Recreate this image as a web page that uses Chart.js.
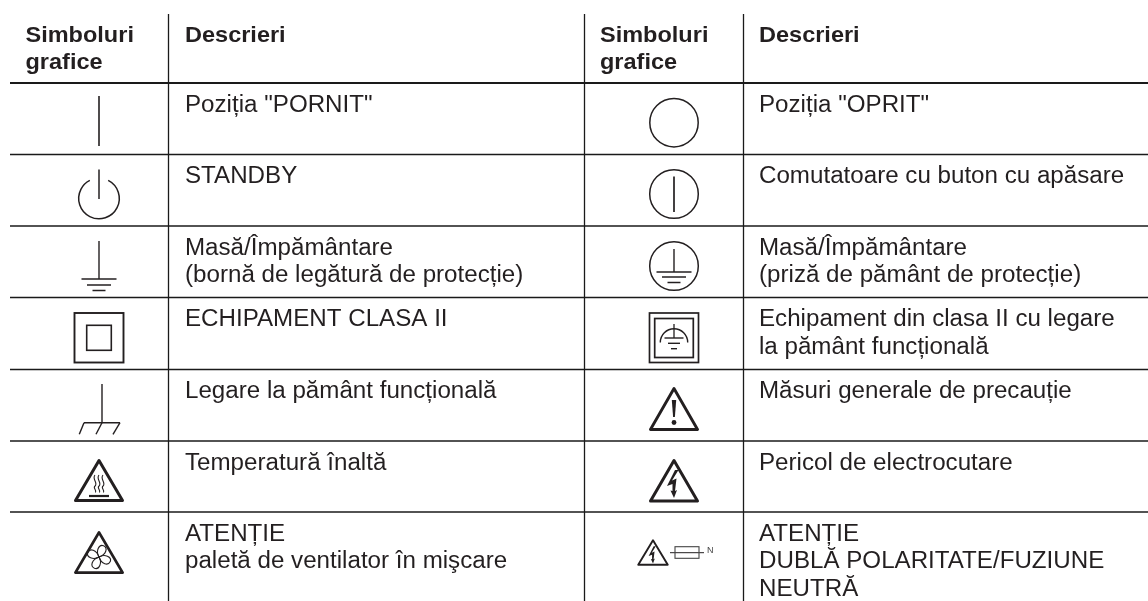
<!DOCTYPE html>
<html>
<head>
<meta charset="utf-8">
<style>
  html, body { margin: 0; padding: 0; background: #fff; }
  canvas { display: block; }
</style>
<script src="https://cdn.jsdelivr.net/npm/chart.js@4"></script>
</head>
<body>
<canvas id="tabel" width="1148" height="601"></canvas>
<script>
(function (window, document) {
    'use strict';

    var INK = '#231f20';

    // table grid, in the pixel units of the two hidden axes
    var thickRows = [83];
    var thinRows = [154.5, 226, 297.5, 369.5, 441, 512];
    var columns = [168.5, 584.5, 743.5];
    var rowStarts = [83, 154.5, 226, 297.5, 369.5, 441, 512];

    var headerSymbols = ['Simboluri', 'grafice'];
    var headerDescriptions = ['Descrieri'];

    var leftDescriptions = [
        ['Poziția "PORNIT"'],
        ['STANDBY'],
        ['Masă/Împământare', '(bornă de legătură de protecție)'],
        ['ECHIPAMENT CLASA II'],
        ['Legare la pământ funcțională'],
        ['Temperatură înaltă'],
        ['ATENȚIE', 'paletă de ventilator în mişcare']
    ];
    var rightDescriptions = [
        ['Poziția "OPRIT"'],
        ['Comutatoare cu buton cu apăsare'],
        ['Masă/Împământare', '(priză de pământ de protecție)'],
        ['Echipament din clasa II cu legare', 'la pământ funcțională'],
        ['Măsuri generale de precauție'],
        ['Pericol de electrocutare'],
        ['ATENȚIE', 'DUBLĂ POLARITATE/FUZIUNE', 'NEUTRĂ']
    ];

    var leftSymbols = ['on', 'standby', 'ground', 'classTwo', 'functionalEarth', 'hot', 'fan'];
    var rightSymbols = ['off', 'pushButton', 'protectiveEarth', 'classTwoEarth', 'caution', 'shock', 'fuse'];
    var leftSymbolX = [99, 99, 99, 99, 99, 99, 99];
    var rightSymbolX = [674, 674, 674, 674, 674, 674, 674];
    var symbolY = [122, 194, 266, 338, 409, 481, 552];

    function line(ctx, pts, lw) {
        ctx.lineWidth = lw;
        ctx.beginPath();
        pts.forEach(function (p, i) {
            if (i === 0) { ctx.moveTo(p[0], p[1]); } else { ctx.lineTo(p[0], p[1]); }
        });
        ctx.stroke();
    }

    function circle(ctx, x, y, r, lw) {
        ctx.lineWidth = lw;
        ctx.beginPath();
        ctx.arc(x, y, r, 0, Math.PI * 2);
        ctx.stroke();
    }

    // warning triangle given by its outer extents
    function triangle(ctx, top, bottom, half, lw) {
        ctx.lineWidth = lw;
        ctx.lineJoin = 'round';
        ctx.beginPath();
        ctx.moveTo(0, top + lw / 2);
        ctx.lineTo(half - lw / 2, bottom - lw / 2);
        ctx.lineTo(-half + lw / 2, bottom - lw / 2);
        ctx.closePath();
        ctx.stroke();
    }

    function bolt(ctx, k) {
        var pts = [[1, -11], [-7, 5], [-1.5, 3], [-1.5, 10], [-3.5, 9.5], [0, 17], [3, 9], [1, 10], [2.5, -2.5], [-2, -0.5], [4.5, -11]];
        ctx.beginPath();
        pts.forEach(function (p, i) {
            if (i === 0) { ctx.moveTo(p[0] * k, p[1] * k); } else { ctx.lineTo(p[0] * k, p[1] * k); }
        });
        ctx.closePath();
        ctx.fill();
    }

    // every symbol draws around (0, 0), the point it is plotted on
    var symbolDrawers = {
        on: function (ctx) {
            line(ctx, [[0, -26], [0, 24]], 1.6);
        },
        off: function (ctx) {
            circle(ctx, 0, 0.7, 24.2, 1.5);
        },
        standby: function (ctx) {
            line(ctx, [[0, -24.5], [0, 5]], 1.5);
            ctx.lineWidth = 1.5;
            ctx.beginPath();
            ctx.arc(0, 4.5, 20.3, -Math.PI / 2 + 0.47, -Math.PI / 2 - 0.47);
            ctx.stroke();
        },
        pushButton: function (ctx) {
            circle(ctx, 0, 0, 24.3, 1.5);
            line(ctx, [[0, -17.5], [0, 18]], 1.7);
        },
        ground: function (ctx) {
            line(ctx, [[0, -25], [0, 13]], 1.4);
            line(ctx, [[-17.5, 13], [17.5, 13]], 1.5);
            line(ctx, [[-12, 19], [12, 19]], 1.5);
            line(ctx, [[-6.5, 24.5], [6.5, 24.5]], 1.5);
        },
        protectiveEarth: function (ctx) {
            circle(ctx, 0, 0, 24.3, 1.5);
            line(ctx, [[0, -17], [0, 6]], 1.4);
            line(ctx, [[-17.5, 6], [17.5, 6]], 1.5);
            line(ctx, [[-12, 11], [12, 11]], 1.5);
            line(ctx, [[-6.5, 16.5], [6.5, 16.5]], 1.5);
        },
        classTwo: function (ctx) {
            ctx.lineWidth = 1.9;
            ctx.strokeRect(-24.5, -25, 49, 49.5);
            ctx.lineWidth = 1.6;
            ctx.strokeRect(-12.3, -12.7, 24.6, 25);
        },
        classTwoEarth: function (ctx) {
            ctx.lineWidth = 1.7;
            ctx.strokeRect(-24.5, -25, 49, 49.5);
            ctx.lineWidth = 1.7;
            ctx.strokeRect(-19.3, -19.5, 38.6, 39);
            ctx.lineWidth = 1.4;
            ctx.beginPath();
            ctx.arc(0, 4.5, 13.7, Math.PI, 0);
            ctx.stroke();
            line(ctx, [[0, -14], [0, 0]], 1.3);
            line(ctx, [[-9.5, 0], [9.5, 0]], 1.4);
            line(ctx, [[-6, 5.3], [6, 5.3]], 1.4);
            line(ctx, [[-3, 10.7], [3, 10.7]], 1.4);
        },
        functionalEarth: function (ctx) {
            line(ctx, [[3, -25], [3, 13.7]], 1.4);
            line(ctx, [[-15, 13.7], [21, 13.7]], 1.5);
            line(ctx, [[-15, 13.7], [-19.7, 25.3]], 1.4);
            line(ctx, [[3, 13.7], [-3, 25.3]], 1.4);
            line(ctx, [[21, 13.7], [14, 25.3]], 1.4);
        },
        hot: function (ctx) {
            triangle(ctx, -22, 21, 25, 3);
            line(ctx, [[-10, 15], [10, 15]], 2.2);
            ctx.lineWidth = 1.1;
            [-4, 0, 4].forEach(function (x) {
                ctx.beginPath();
                ctx.moveTo(x, -6);
                ctx.bezierCurveTo(x - 3.5, -2, x + 3.5, 2, x, 5);
                ctx.bezierCurveTo(x - 2.5, 7, x + 2, 9, x + 0.5, 11.5);
                ctx.stroke();
            });
        },
        fan: function (ctx) {
            triangle(ctx, -21, 22, 25, 2.8);
            ctx.lineWidth = 1.1;
            [0, 1, 2, 3].forEach(function (i) {
                ctx.save();
                ctx.translate(0, 5);
                ctx.rotate(Math.PI / 2 * i + 0.55);
                ctx.beginPath();
                ctx.moveTo(0, 0);
                ctx.bezierCurveTo(-6, -3, -7, -11, -2, -12);
                ctx.bezierCurveTo(3, -12.5, 5, -6, 0, 0);
                ctx.stroke();
                ctx.restore();
            });
        },
        caution: function (ctx) {
            triangle(ctx, -22, 22, 25, 2.9);
            ctx.beginPath();
            ctx.moveTo(-2.2, -9);
            ctx.lineTo(2.2, -9);
            ctx.lineTo(0.9, 8);
            ctx.lineTo(-0.9, 8);
            ctx.closePath();
            ctx.fill();
            ctx.beginPath();
            ctx.arc(0, 13.5, 2.4, 0, Math.PI * 2);
            ctx.fill();
        },
        shock: function (ctx) {
            triangle(ctx, -22, 21.5, 25, 3);
            bolt(ctx, 1);
        },
        fuse: function (ctx) {
            ctx.save();
            ctx.translate(-21, 0);
            triangle(ctx, -12.7, 13.7, 15.7, 1.9);
            ctx.translate(0, 1);
            bolt(ctx, 0.62);
            ctx.restore();
            line(ctx, [[-4, 0.7], [30, 0.7]], 1);
            ctx.strokeStyle = '#444';
            ctx.lineWidth = 1.1;
            ctx.strokeRect(1, -5.3, 24, 11.6);
            ctx.fillStyle = '#444';
            ctx.font = '9px "Liberation Sans"';
            ctx.textBaseline = 'alphabetic';
            ctx.fillText('N', 33, 1);
        }
    };

    function makeSymbol(name) {
        var $c = document.createElement('canvas');
        $c.width = 120;
        $c.height = 70;
        var ctx = $c.getContext('2d');
        ctx.translate(60, 35);
        ctx.strokeStyle = INK;
        ctx.fillStyle = INK;
        symbolDrawers[name](ctx);
        return $c;
    }

    function ruleDataset(points, width) {
        return {
            type: 'scatter',
            data: points,
            showLine: true,
            borderColor: '#1a1a1a',
            borderWidth: width,
            pointRadius: 0,
            clip: false
        };
    }

    function symbolDataset(names, xs) {
        return {
            type: 'scatter',
            data: names.map(function (n, i) { return { x: xs[i], y: symbolY[i] }; }),
            pointStyle: names.map(makeSymbol),
            pointRadius: 10,
            clip: false
        };
    }

    var datasets = [];
    thickRows.forEach(function (y) {
        datasets.push(ruleDataset([{ x: 10, y: y }, { x: 1148, y: y }], 2.2));
    });
    thinRows.forEach(function (y) {
        datasets.push(ruleDataset([{ x: 10, y: y }, { x: 1148, y: y }], 1.3));
    });
    columns.forEach(function (x) {
        datasets.push(ruleDataset([{ x: x, y: 14 }, { x: x, y: 601 }], 1.3));
    });
    datasets.push(symbolDataset(leftSymbols, leftSymbolX));
    datasets.push(symbolDataset(rightSymbols, rightSymbolX));

    // the source type is a little wider than Liberation Sans at the same height
    var TEXT_STRETCH = 1.05;

    var tableText = {
        id: 'tableText',
        afterDatasetsDraw: function (chart) {
            var ctx = chart.ctx;
            var sx = chart.scales.x;
            var sy = chart.scales.y;

            function write(lines, x, y, font) {
                ctx.font = font;
                lines.forEach(function (t, i) {
                    ctx.save();
                    ctx.translate(sx.getPixelForValue(x), sy.getPixelForValue(y + i * 27.4));
                    ctx.scale(TEXT_STRETCH, 1);
                    ctx.fillText(t, 0, 0);
                    ctx.restore();
                });
            }

            ctx.save();
            ctx.fillStyle = INK;
            ctx.textBaseline = 'alphabetic';
            var bold = 'bold 22.4px "Liberation Sans"';
            var plain = '23px "Liberation Sans"';
            write(headerSymbols, 25.5, 42, bold);
            write(headerDescriptions, 185, 42, bold);
            write(headerSymbols, 600, 42, bold);
            write(headerDescriptions, 759, 42, bold);
            rowStarts.forEach(function (top, r) {
                write(leftDescriptions[r], 185, top + 28.7, plain);
                write(rightDescriptions[r], 759, top + 28.7, plain);
            });
            ctx.restore();
        }
    };

    new Chart(document.getElementById('tabel'), {
        type: 'scatter',
        data: { datasets: datasets },
        plugins: [tableText],
        options: {
            responsive: false,
            animation: false,
            layout: { padding: 0, autoPadding: false },
            events: [],
            plugins: {
                legend: { display: false },
                tooltip: { enabled: false }
            },
            scales: {
                x: { type: 'linear', display: false, min: 0, max: 1148 },
                y: { type: 'linear', display: false, min: 0, max: 601, reverse: true }
            }
        }
    });
})(window, document);
</script>
</body>
</html>
